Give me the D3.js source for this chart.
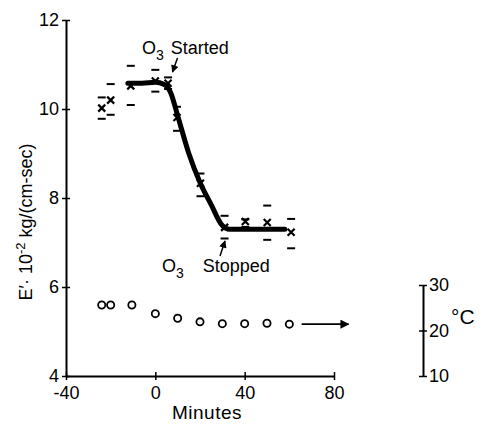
<html>
<meta charset="utf-8">

<head>
    <script src="https://d3js.org/d3.v7.min.js"></script>
    <style>
        body {
            margin: 0;
            background: white;
        }

        text {
            font-family: "Liberation Sans", Arial, sans-serif;
            fill: black;
        }

        .axis .domain {
            stroke: black;
            stroke-width: 2;
        }

        .axis line {
            stroke: black;
            stroke-width: 1.5;
        }

        .axis text {
            font-size: 17px;
        }
    </style>
</head>

<svg id="chart" width="483" height="424"></svg>

<script>
    // E' measurements (x marks) with error bar ends
    const eMinutes = [-24, -20, -11, 0, 5.7, 9.7, 20.2, 31, 40.3, 50.1, 60.8];
    const eValues = [10.02, 10.2, 10.52, 10.63, 10.58, 9.81, 8.33, 7.34, 7.47, 7.45, 7.23];
    const eHigh = [10.26, 10.56, 10.97, 10.88, 10.71, 10.05, 8.55, 7.6, 7.52, 7.83, 7.53];
    const eLow = [9.78, 9.87, 10.09, 10.39, 10.45, 9.51, 8.04, 7.09, 7.35, 7.06, 6.87];

    // hand drawn trend curve
    const curveMinutes = [-12.3, -6, 0, 4, 7, 10, 15, 20, 25, 30, 33, 40, 50, 58];
    const curveValues = [10.58, 10.58, 10.6, 10.55, 10.35, 9.85, 9.0, 8.35, 7.85, 7.38, 7.3, 7.3, 7.3, 7.3];

    // temperature (circles)
    const tMinutes = [-24, -20, -10.5, 0, 10, 20, 30, 40, 50, 60];
    const tValues = [25.6, 25.6, 25.6, 23.7, 22.7, 21.9, 21.5, 21.5, 21.6, 21.4];

    const xTicks = [-40, 0, 40, 80];
    const yTicks = [4, 6, 8, 10, 12];
    const tTicks = [10, 20, 30];

    const svg = d3.select('svg#chart');

    const x = d3.scaleLinear().domain([-40, 80]).range([66, 334]);
    const y = d3.scaleLinear().domain([4, 12]).range([376, 20]);
    const t = d3.scaleLinear().domain([10, 30]).range([376, 285]);

    // axes
    const xAxis = svg.append('g').attr('class', 'axis')
        .attr('transform', `translate(0,${y(4)})`)
        .call(d3.axisBottom(x).tickValues(xTicks).tickSize(4).tickSizeOuter(0)
            .tickFormat(d => d < 0 ? '-' + Math.abs(d) : d));
    xAxis.selectAll('.tick line').attr('y1', -4).attr('y2', 4);
    xAxis.selectAll('.tick text').attr('dy', null).attr('y', 23).style('font-size', '18px');

    const yAxis = svg.append('g').attr('class', 'axis')
        .attr('transform', `translate(${x(-40)},0)`)
        .call(d3.axisLeft(y).tickValues(yTicks).tickSize(4).tickSizeOuter(0));
    yAxis.selectAll('.tick line').attr('x1', -4).attr('x2', 4);
    yAxis.selectAll('.tick text').attr('x', -7).style('font-size', '18px');

    const tAxis = svg.append('g').attr('class', 'axis')
        .attr('transform', 'translate(423,0)')
        .call(d3.axisRight(t).tickValues(tTicks).tickSize(4).tickSizeOuter(0));
    tAxis.selectAll('.tick line').attr('x1', -4).attr('x2', 4);
    tAxis.selectAll('.tick text').attr('x', 6).style('font-size', '18px');

    svg.append('text').text('°C')
        .attr('x', 451).attr('y', 324)
        .style('font-size', '21px');

    // axis titles
    svg.append('text').text('Minutes')
        .attr('x', 207).attr('y', 419)
        .attr('text-anchor', 'middle')
        .style('font-size', '19px')
        .style('letter-spacing', '0.5px');

    const yLabel = svg.append('text')
        .attr('transform', 'translate(32,222) rotate(-90)')
        .attr('text-anchor', 'middle')
        .style('font-size', '18px');
    yLabel.append('tspan').text('E′· 10');
    yLabel.append('tspan').text('-2').attr('dy', -7).style('font-size', '13px');
    yLabel.append('tspan').text(' kg/(cm-sec)').attr('dy', 7);

    // trend curve
    const lineGen = d3.line()
        .x(d => x(d[0]))
        .y(d => y(d[1]))
        .curve(d3.curveMonotoneX);

    svg.append('path')
        .datum(curveMinutes.map((m, i) => [m, curveValues[i]]))
        .attr('d', lineGen)
        .attr('fill', 'none')
        .attr('stroke', 'black')
        .attr('stroke-width', 5)
        .attr('stroke-linecap', 'round');

    // error bar ends
    const capW = 4;
    eMinutes.forEach((m, i) => {
        [eHigh[i], eLow[i]].forEach(v => {
            svg.append('line')
                .attr('x1', x(m) - capW).attr('x2', x(m) + capW)
                .attr('y1', y(v)).attr('y2', y(v))
                .attr('stroke', 'black').attr('stroke-width', 2);
        });
    });

    // x marks
    const s = 3.5;
    svg.selectAll('path.xmark')
        .data(eMinutes.map((m, i) => [m, eValues[i]]))
        .join('path')
        .attr('class', 'xmark')
        .attr('d', d => {
            const cx = x(d[0]), cy = y(d[1]);
            return `M${cx - s},${cy - s}L${cx + s},${cy + s}M${cx - s},${cy + s}L${cx + s},${cy - s}`;
        })
        .attr('stroke', 'black')
        .attr('stroke-width', 2.2);

    // temperature circles
    svg.selectAll('circle.temp')
        .data(tMinutes.map((m, i) => [m, tValues[i]]))
        .join('circle')
        .attr('class', 'temp')
        .attr('cx', d => x(d[0]))
        .attr('cy', d => t(d[1]))
        .attr('r', 3.6)
        .attr('fill', 'none')
        .attr('stroke', 'black')
        .attr('stroke-width', 1.8);

    // arrow to the temperature axis
    svg.append('defs').append('marker')
        .attr('id', 'head')
        .attr('viewBox', '0 0 10 10')
        .attr('refX', 9).attr('refY', 5)
        .attr('markerWidth', 6).attr('markerHeight', 5)
        .attr('markerUnits', 'strokeWidth')
        .attr('orient', 'auto')
        .append('path').attr('d', 'M0,0L10,5L0,10z').attr('fill', 'black');

    svg.append('line')
        .attr('x1', x(65.5)).attr('x2', x(86.5))
        .attr('y1', t(21.4)).attr('y2', t(21.4))
        .attr('stroke', 'black').attr('stroke-width', 1.8)
        .attr('marker-end', 'url(#head)');

    // annotations
    const started = svg.append('text').attr('x', 142).attr('y', 54).style('font-size', '18px');
    started.append('tspan').text('O');
    started.append('tspan').text('3').attr('dy', 6).style('font-size', '14px');
    started.append('tspan').text(' Started').attr('dy', -6).attr('dx', 2);

    svg.append('line')
        .attr('x1', 177.5).attr('y1', 58).attr('x2', 172.5).attr('y2', 72)
        .attr('stroke', 'black').attr('stroke-width', 1.5)
        .attr('marker-end', 'url(#head)');

    const stopped = svg.append('text').attr('x', 162).attr('y', 272).style('font-size', '18px');
    stopped.append('tspan').text('O');
    stopped.append('tspan').text('3').attr('dy', 6).style('font-size', '14px');
    stopped.append('tspan').text(' Stopped').attr('dy', -6).attr('dx', 14);

    svg.append('line')
        .attr('x1', 220).attr('y1', 256).attr('x2', 225).attr('y2', 241)
        .attr('stroke', 'black').attr('stroke-width', 1.5)
        .attr('marker-end', 'url(#head)');
</script>

</html>
